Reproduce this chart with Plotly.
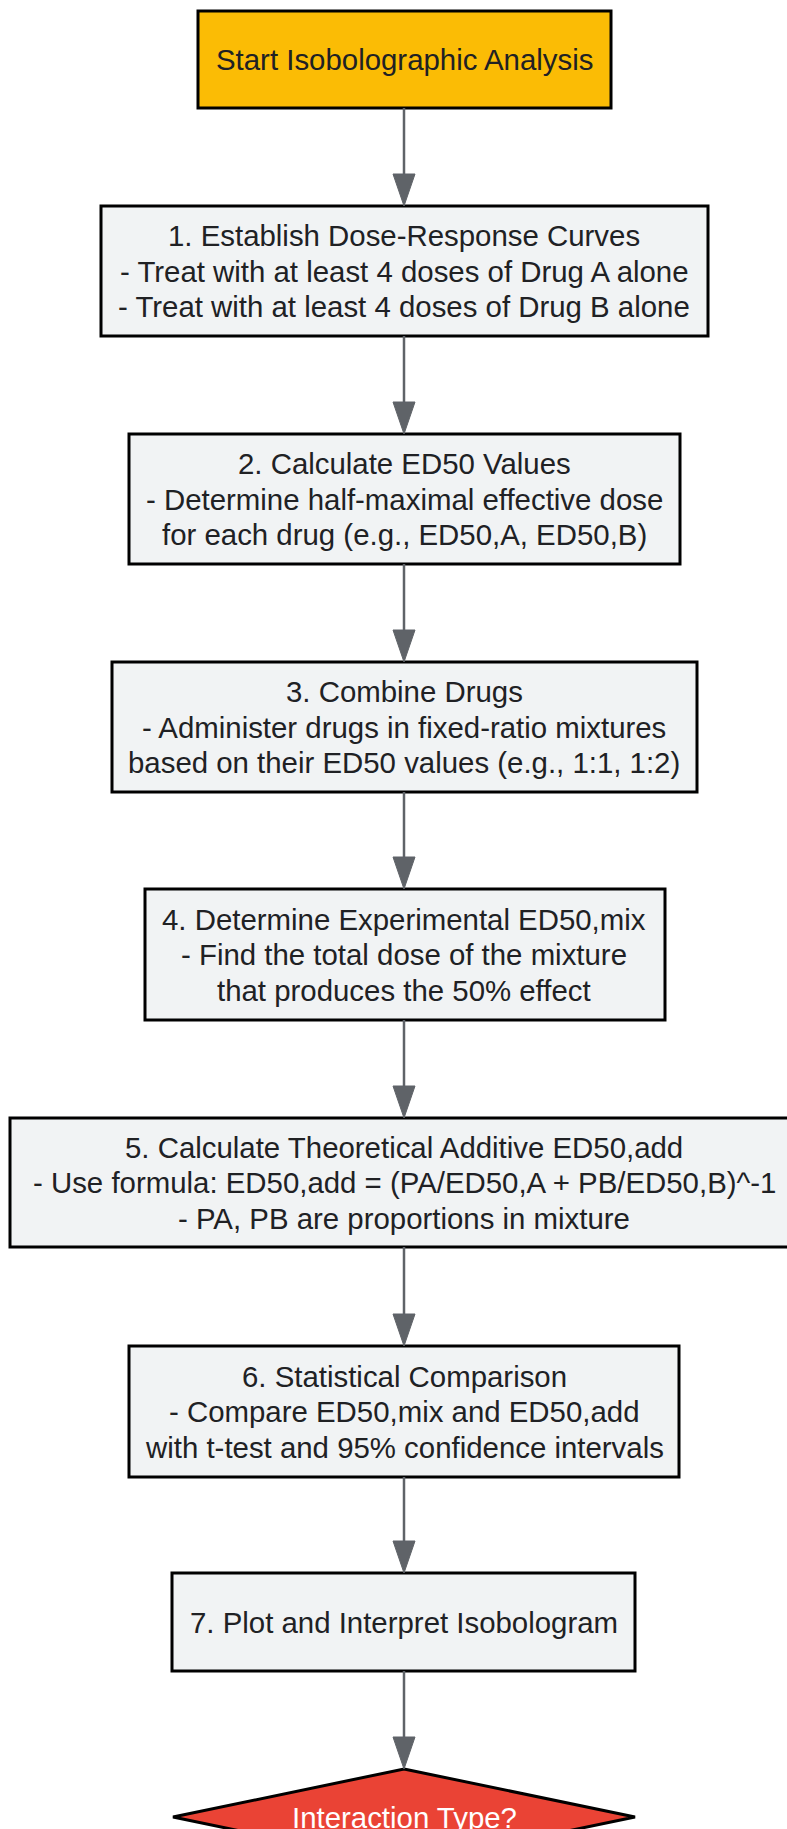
import plotly.graph_objects as go

# ---- content ----
node_lines = [
    ["Start Isobolographic Analysis"],
    ["1. Establish Dose-Response Curves",
     "- Treat with at least 4 doses of Drug A alone",
     "- Treat with at least 4 doses of Drug B alone"],
    ["2. Calculate ED50 Values",
     "- Determine half-maximal effective dose",
     "for each drug (e.g., ED50,A, ED50,B)"],
    ["3. Combine Drugs",
     "- Administer drugs in fixed-ratio mixtures",
     "based on their ED50 values (e.g., 1:1, 1:2)"],
    ["4. Determine Experimental ED50,mix",
     "- Find the total dose of the mixture",
     "that produces the 50% effect"],
    ["5. Calculate Theoretical Additive ED50,add",
     "- Use formula: ED50,add = (PA/ED50,A + PB/ED50,B)^-1",
     "- PA, PB are proportions in mixture"],
    ["6. Statistical Comparison",
     "- Compare ED50,mix and ED50,add",
     "with t-test and 95% confidence intervals"],
    ["7. Plot and Interpret Isobologram"],
    ["Interaction Type?"],
]
node_kind = ["rect"] * 8 + ["diamond"]
node_fill = ["#FBBC05"] + ["#F1F3F4"] * 7 + ["#EA4335"]
node_text_color = ["#202124"] * 8 + ["#FFFFFF"]

# ---- layout geometry (page pixels, y downward) ----
PAGE_W, PAGE_H = 787, 1829
CX = 404
node_left = [198, 101, 129, 112, 145, 10, 129, 172, 173]
node_right = [611, 708, 680, 697, 665, 798, 679, 635, 635]
node_top = [11, 206, 434, 662, 889, 1118, 1346, 1573, 1769]
node_bottom = [108, 336, 564, 792, 1020, 1247, 1477, 1671, 1865]

FONT = "Liberation Sans, Arial, sans-serif"
FS = 29.4
LINE_H = 35.5
BORDER = "#000000"
EDGE = "#5F6368"
HEAD_L, HEAD_W = 32, 22

shapes = []
annotations = []

for i, lines in enumerate(node_lines):
    l, r, t, b = node_left[i], node_right[i], node_top[i], node_bottom[i]
    cy = (t + b) / 2
    if node_kind[i] == "rect":
        shapes.append(dict(type="rect", xref="x", yref="y", x0=l, x1=r, y0=t, y1=b,
                           fillcolor=node_fill[i], line=dict(color=BORDER, width=3),
                           layer="below"))
    else:
        cx = (l + r) / 2
        path = f"M {cx},{t} L {r},{cy} L {cx},{b} L {l},{cy} Z"
        shapes.append(dict(type="path", xref="x", yref="y", path=path,
                           fillcolor=node_fill[i], line=dict(color=BORDER, width=3),
                           layer="below"))
    n = len(lines)
    for k, txt in enumerate(lines):
        y = cy + (k - (n - 1) / 2) * LINE_H
        annotations.append(dict(x=CX, y=y, xref="x", yref="y", text=txt,
                                showarrow=False, xanchor="center", yanchor="middle",
                                font=dict(family=FONT, size=FS, color=node_text_color[i])))

# edges
for i in range(len(node_lines) - 1):
    y0 = node_bottom[i]
    tip = node_top[i + 1]
    shapes.append(dict(type="line", xref="x", yref="y", x0=CX, x1=CX, y0=y0, y1=tip - HEAD_L + 2,
                       line=dict(color=EDGE, width=2.5), layer="above"))
    hp = f"M {CX - HEAD_W/2},{tip - HEAD_L} L {CX + HEAD_W/2},{tip - HEAD_L} L {CX},{tip} Z"
    shapes.append(dict(type="path", xref="x", yref="y", path=hp,
                       fillcolor=EDGE, line=dict(color=EDGE, width=1), layer="above"))

fig = go.Figure()
fig.update_layout(
    width=PAGE_W, height=PAGE_H,
    margin=dict(l=0, r=0, t=0, b=0),
    paper_bgcolor="white", plot_bgcolor="white",
    xaxis=dict(range=[0, PAGE_W], visible=False, fixedrange=True),
    yaxis=dict(range=[PAGE_H, 0], visible=False, fixedrange=True),
    shapes=shapes, annotations=annotations, showlegend=False,
)
fig.write_html(
    "out.html",
    config={"displayModeBar": False},
    post_script="document.body.style.margin='0';document.body.style.overflow='hidden';",
)
